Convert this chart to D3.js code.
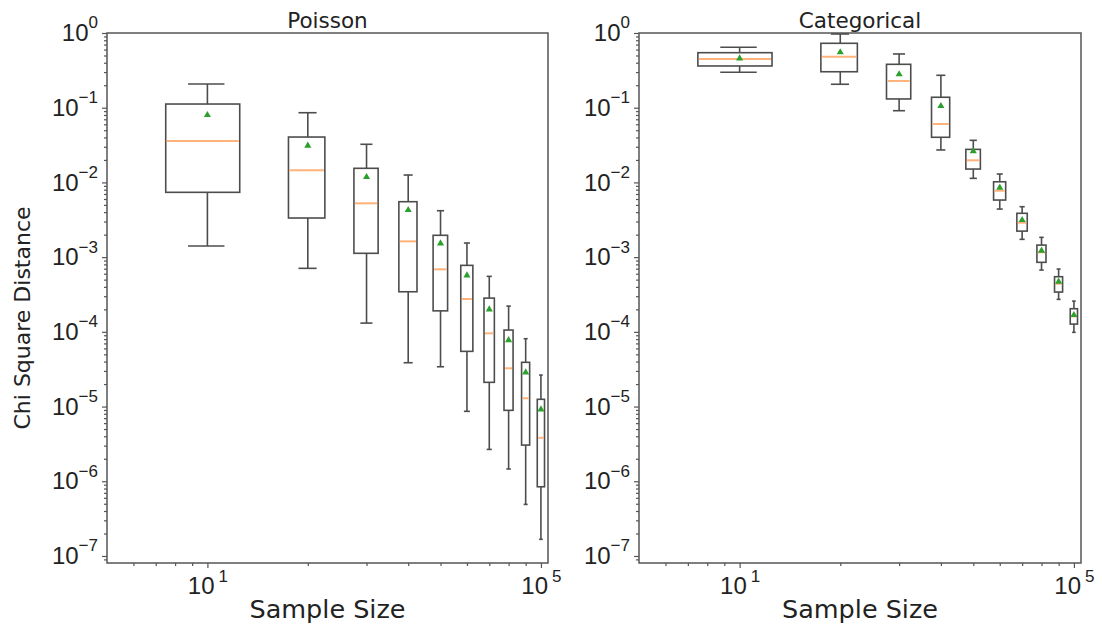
<!DOCTYPE html>
<html>
<head>
<meta charset="utf-8">
<title>Chi Square Distance boxplots</title>
<script src="https://d3js.org/d3.v7.min.js"></script>
<style>
    body { margin: 0; background: #fff; }
    svg { font-family: "DejaVu Sans", sans-serif; }
    .domain { stroke: #555; stroke-width: 1.5px; }
    .tick line { stroke: #555; stroke-width: 1.2px; }
    .tick text { fill: #222; }
</style>
</head>
<body>
<svg width="1102" height="628"></svg>
<script>
    // box positions on the (log) x axis
    const positions = [1, 2, 3, 4, 5, 6, 7, 8, 9, 10];
    const xTickValues = [1, 10];
    const xTickExponents = ["1", "5"];
    const yTickExponents = [0, -1, -2, -3, -4, -5, -6, -7];

    // Poisson panel
    const poissonLow  = [0.00141, 0.000708, 0.000131, 3.86e-5, 3.41e-5, 8.63e-6, 2.67e-6, 1.46e-6, 4.9e-7, 1.67e-7];
    const poissonQ1   = [0.00737, 0.00334, 0.001125, 0.000344, 0.000191, 5.48e-5, 2.11e-5, 8.9e-6, 3.05e-6, 8.44e-7];
    const poissonMed  = [0.0358, 0.01452, 0.00525, 0.001627, 0.000687, 0.000275, 9.55e-5, 3.25e-5, 1.29e-5, 3.82e-6];
    const poissonQ3   = [0.112, 0.0405, 0.01545, 0.00552, 0.00196, 0.000776, 0.000283, 0.0001057, 3.91e-5, 1.25e-5];
    const poissonHigh = [0.2076, 0.0857, 0.0324, 0.01256, 0.00418, 0.001545, 0.000553, 0.000221, 8.09e-5, 2.64e-5];
    const poissonMean = [0.0798, 0.031, 0.0118, 0.00427, 0.00153, 0.00057, 0.0002, 7.76e-5, 2.87e-5, 9.18e-6];

    // Categorical panel
    const catLow  = [0.298, 0.206, 0.0912, 0.0272, 0.01134, 0.0044, 0.00173, 0.000672, 0.000272, 9.85e-5];
    const catQ1   = [0.362, 0.303, 0.131, 0.0402, 0.0151, 0.00581, 0.00223, 0.000852, 0.000341, 0.000127];
    const catMed  = [0.449, 0.482, 0.228, 0.0605, 0.01977, 0.00774, 0.00289, 0.00116, 0.00044, 0.000161];
    const catQ3   = [0.545, 0.728, 0.381, 0.138, 0.0277, 0.0102, 0.00386, 0.00145, 0.000547, 0.000204];
    const catHigh = [0.644, 0.97, 0.524, 0.2716, 0.0366, 0.01295, 0.00473, 0.00184, 0.000693, 0.000258];
    const catMean = [0.458, 0.552, 0.28, 0.1054, 0.0261, 0.0085, 0.00314, 0.00122, 0.000469, 0.000168];

    const svg = d3.select("svg");
    const plotTop = 33, plotBottom = 563;

    const y = d3.scaleLog()
        .domain([Math.pow(10, -7.094), 1])
        .range([plotBottom, plotTop]);

    function drawPanel(left, right, title, low, q1, med, q3, high, mean, showYLabel) {
        const g = svg.append("g");
        const x = d3.scaleLog().domain([0.5, 10.5]).range([left, right]);

        // frame
        g.append("rect")
            .attr("x", left).attr("y", plotTop)
            .attr("width", right - left).attr("height", plotBottom - plotTop)
            .attr("fill", "none").attr("stroke", "#555").attr("stroke-width", 1.5);

        // y axis: major ticks with labels, minor ticks without
        const yMinor = [];
        for (let e = -8; e < 0; e++) {
            for (let m = 2; m <= 9; m++) {
                const v = m * Math.pow(10, e);
                if (v >= y.domain()[0] && v <= 1) yMinor.push(v);
            }
        }
        g.append("g")
            .attr("transform", `translate(${left},0)`)
            .call(d3.axisLeft(y).tickValues(yMinor).tickSize(3).tickFormat(""))
            .call(a => a.select(".domain").remove());
        const yAxis = g.append("g")
            .attr("transform", `translate(${left},0)`)
            .call(d3.axisLeft(y).tickValues(yTickExponents.map(e => Math.pow(10, e)))
                .tickSize(5).tickPadding(4).tickFormat(""));
        yAxis.select(".domain").remove();
        yAxis.selectAll(".tick text").each(function (d, i) {
            const t = d3.select(this).attr("font-size", 24).attr("dy", "0.32em");
            t.append("tspan").text("10");
            t.append("tspan").attr("font-size", 17).attr("dy", "-0.75em")
                .text(yTickExponents[i] === 0 ? "0" : "\u2212" + Math.abs(yTickExponents[i]));
        });

        // x axis
        const xMinor = [0.6, 0.7, 0.8, 0.9, 2, 3, 4, 5, 6, 7, 8, 9];
        g.append("g")
            .attr("transform", `translate(0,${plotBottom})`)
            .call(d3.axisBottom(x).tickValues(xMinor).tickSize(3).tickFormat(""))
            .call(a => a.select(".domain").remove());
        const xAxis = g.append("g")
            .attr("transform", `translate(0,${plotBottom})`)
            .call(d3.axisBottom(x).tickValues(xTickValues).tickSize(5).tickPadding(6).tickFormat(""));
        xAxis.select(".domain").remove();
        xAxis.selectAll(".tick text").each(function (d, i) {
            const t = d3.select(this).attr("font-size", 24).attr("dy", "0.85em");
            t.append("tspan").text("10");
            t.append("tspan").attr("font-size", 17).attr("dx", 4).attr("dy", "-0.75em").text(xTickExponents[i]);
        });

        // boxes
        const boxes = g.append("g");
        positions.forEach((p, i) => {
            const bx0 = x(p - 0.25), bx1 = x(p + 0.25);
            const cx0 = x(p - 0.125), cx1 = x(p + 0.125);
            const cx = x(p);
            const b = boxes.append("g").attr("stroke", "#4d4d4d").attr("stroke-width", 1.6).attr("fill", "none");
            b.append("line").attr("x1", cx).attr("x2", cx).attr("y1", y(high[i])).attr("y2", y(q3[i]));
            b.append("line").attr("x1", cx).attr("x2", cx).attr("y1", y(q1[i])).attr("y2", y(low[i]));
            b.append("line").attr("x1", cx0).attr("x2", cx1).attr("y1", y(high[i])).attr("y2", y(high[i]));
            b.append("line").attr("x1", cx0).attr("x2", cx1).attr("y1", y(low[i])).attr("y2", y(low[i]));
            b.append("rect").attr("x", bx0).attr("y", y(q3[i]))
                .attr("width", bx1 - bx0).attr("height", y(q1[i]) - y(q3[i]));
            boxes.append("line")
                .attr("x1", bx0 + 1).attr("x2", bx1 - 1)
                .attr("y1", y(med[i])).attr("y2", y(med[i]))
                .attr("stroke", "#ffb27a").attr("stroke-width", 2);
            boxes.append("path")
                .attr("d", d3.symbol(d3.symbolTriangle, 22)())
                .attr("transform", `translate(${cx},${y(mean[i])})`)
                .attr("fill", "#2ca02c");
        });

        // labels
        svg.append("text")
            .attr("x", (left + right) / 2).attr("y", 28)
            .attr("text-anchor", "middle").attr("font-size", 21.5).attr("fill", "#222")
            .text(title);
        svg.append("text")
            .attr("x", (left + right) / 2).attr("y", 618)
            .attr("text-anchor", "middle").attr("font-size", 25.5).attr("fill", "#222")
            .text("Sample Size");
        if (showYLabel) {
            svg.append("text")
                .attr("transform", `translate(30,${(plotTop + plotBottom) / 2 + 20}) rotate(-90)`)
                .attr("text-anchor", "middle").attr("font-size", 22).attr("fill", "#222")
                .text("Chi Square Distance");
        }
    }

    drawPanel(107, 548, "Poisson", poissonLow, poissonQ1, poissonMed, poissonQ3, poissonHigh, poissonMean, true);
    drawPanel(639, 1081, "Categorical", catLow, catQ1, catMed, catQ3, catHigh, catMean, false);
</script>
</body>
</html>
